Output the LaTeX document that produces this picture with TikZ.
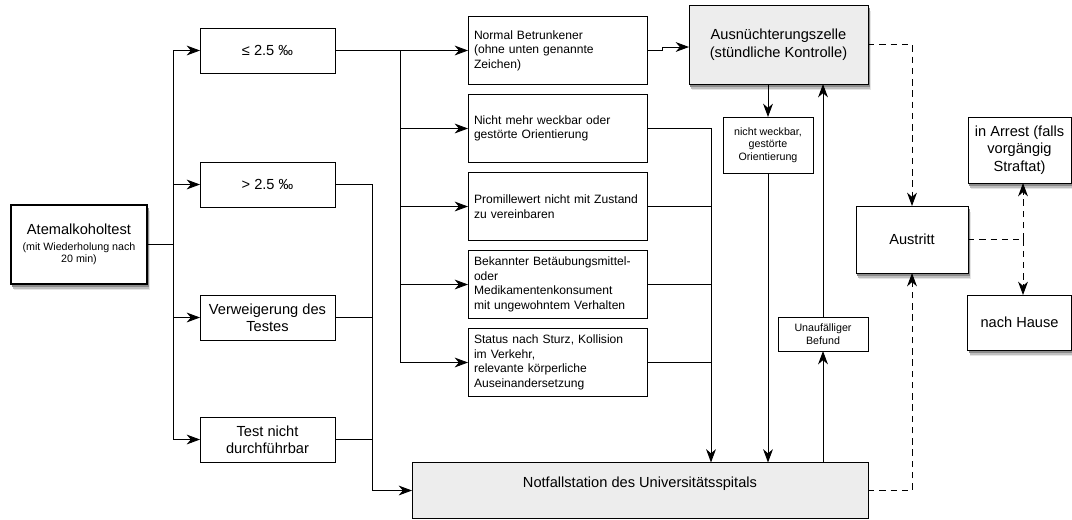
\documentclass[tikz,border=0pt]{standalone}
\usepackage{fontspec}
\setmainfont{Liberation Sans}
\usetikzlibrary{positioning,arrows.meta}

\newcommand{\bigf}{\fontsize{10.4}{12.4}\selectfont}
\newcommand{\midf}{\fontsize{8.6}{10.4}\selectfont}
\newcommand{\smallf}{\fontsize{7.6}{8.8}\selectfont}

\tikzset{
  box/.style={draw, rectangle, line width=0.65pt, fill=white, font=\bigf,
    align=center, inner sep=0pt, outer sep=0pt},
  shadowbox/.style={box},
  limitbox/.style={box, minimum width=3.375cm, minimum height=1.125cm},
  signbox/.style={box, font=\midf, align=left, text width=4.175cm,
    inner xsep=0.15cm, minimum height=1.7cm},
  wardbox/.style={shadowbox, fill=black!7},
  notebox/.style={box, font=\smallf, minimum width=2.25cm},
  maybe/.style={dash pattern=on 4.5pt off 3.5pt},
}

\begin{document}
\begin{tikzpicture}[on grid, line width=0.65pt,
    >={Stealth[length=9.5pt,width=7pt,inset=3pt]}]
    \useasboundingbox (0,0) rectangle (26.8,-12.975);

    % test and first split
    \node[shadowbox, font=\smallf, line width=1.4pt, minimum width=3.4cm, minimum height=1.975cm]
        (atem) at (1.975,-6.1125)
        {{\bigf Atemalkoholtest}\\[2.6pt](mit Wiederholung nach\\20 min)};
    \node[limitbox] (le)   [above right=4.85cm and 4.7125cm of atem] {≤ 2.5 ‰};
    \node[limitbox] (gt)   [below=3.35cm of le]   {> 2.5 ‰};
    \node[limitbox] (verw) [below=3.325cm of gt]  {Verweigerung des\\Testes};
    \node[limitbox] (tnd)  [below=3.05cm of verw] {Test nicht\\durchführbar};

    % signs
    \node[signbox] (normal) [right=7.25cm of le]     {Normal Betrunkener\\(ohne unten genannte\\Zeichen)};
    \node[signbox] (weck)   [below=1.95cm of normal] {Nicht mehr weckbar oder\\gestörte Orientierung};
    \node[signbox] (prom)   [below=1.95cm of weck]   {Promillewert nicht mit Zustand\\zu vereinbaren};
    \node[signbox] (bek)    [below=1.95cm of prom]   {Bekannter Betäubungsmittel-\\oder\\Medikamentenkonsument\\mit ungewohntem Verhalten};
    \node[signbox] (sturz)  [below=1.95cm of bek]    {Status nach Sturz, Kollision\\im Verkehr,\\relevante körperliche\\Auseinandersetzung};

    % wards
    \node[wardbox, minimum width=4.475cm, minimum height=1.975cm] (ausn)
        [above right=0.15cm and 5.525cm of normal] {Ausnüchterungszelle\\(stündliche Kontrolle)};
    \node[notebox, minimum height=1.4cm] (nwk)
        [below left=2.5125cm and 0.2625cm of ausn] {nicht weckbar,\\gestörte\\Orientierung};
    \node[notebox, minimum height=0.85cm] (unauf)
        [below right=4.725cm and 1.375cm of nwk] {Unaufälliger\\Befund};
    \node[box, fill=black!7, minimum width=11.4cm, minimum height=1.4cm,
        text height=2.6mm, text depth=4mm] (notf)
        [below right=3.2cm and 2.0625cm of sturz] {Notfallstation des Universitätsspitals};

    % exit
    \node[shadowbox, minimum width=2.8cm, minimum height=1.675cm] (austritt)
        [below right=4.875cm and 3.3375cm of ausn] {Austritt};
    \node[shadowbox, minimum width=2.575cm, minimum height=1.65cm] (arrest)
        [above right=2.2375cm and 2.6875cm of austritt] {in Arrest (falls\\vorgängig\\Straftat)};
    \node[shadowbox, minimum width=2.6cm, minimum height=1.375cm] (hause)
        [below=4.3125cm of arrest] {nach Hause};

    % shadows: strips below and right of the boxes
    \foreach \n in {atem,ausn,austritt,arrest,hause} {
        \foreach \dx/\dy/\c in {2pt/4.4pt/10, 1.5pt/3.2pt/25, 1pt/2pt/45} {
            \fill[black!\c] ([xshift=\dx,yshift=-\dy]\n.south west)
                rectangle ([xshift=\dx,yshift=-0.5pt]\n.south east);
            \fill[black!\c] ([xshift=0.5pt,yshift=-\dy]\n.south east)
                rectangle ([xshift=\dx,yshift=-\dy]\n.north east);
        }
    }

    \coordinate[right=0.65cm of atem.east]     (split);
    \coordinate[right=1.625cm of le.east]      (lesplit);
    \coordinate[right=0.925cm of gt.east]      (gtsplit);
    \coordinate[right=1.6cm of weck.east]      (msplit);
    \coordinate[right=1.375cm of austritt.east] (exitsplit);

    \draw[->] (atem.east) -- (split) |- (le.west);
    \draw[->] (split) |- (gt.west);
    \draw[->] (split) |- (verw.west);
    \draw[->] (split) |- (tnd.west);

    \draw[->] (le.east) -- (lesplit) |- (normal.west);
    \draw[->] (lesplit) |- (weck.west);
    \draw[->] (lesplit) |- (prom.west);
    \draw[->] (lesplit) |- (bek.west);
    \draw[->] (lesplit) |- (sturz.west);

    \draw[->] (gt.east) -- (gtsplit) |- (notf.west);
    \draw (verw.east) -- (verw.east -| gtsplit);
    \draw (tnd.east) -- (tnd.east -| gtsplit);

    \draw[->] (weck.east) -| (msplit |- notf.north);
    \draw (prom.east) -- (prom.east -| msplit);
    \draw (bek.east) -- (bek.east -| msplit);
    \draw (sturz.east) -- (sturz.east -| msplit);

    \draw[->] (normal.east) -- ++(0.375,0) |- ([yshift=-0.0625cm]ausn.west);
    \draw[->] (nwk.north |- ausn.south) -- (nwk.north);
    \draw[->] (nwk.south) -- (nwk.south |- notf.north);
    \draw[->] (unauf.south |- notf.north) -- (unauf.south);
    \draw[->] (unauf.north) -- (unauf.north |- ausn.south);

    \draw[->, maybe] (ausn.east) -| (austritt.north);
    \draw[->, maybe] (notf.east) -| (austritt.south);
    \draw[maybe] (austritt.east) -- (exitsplit);
    \draw[->, maybe] (exitsplit) -- (exitsplit |- arrest.south);
    \draw[->, maybe] (exitsplit) -- (exitsplit |- hause.north);
\end{tikzpicture}
\end{document}
